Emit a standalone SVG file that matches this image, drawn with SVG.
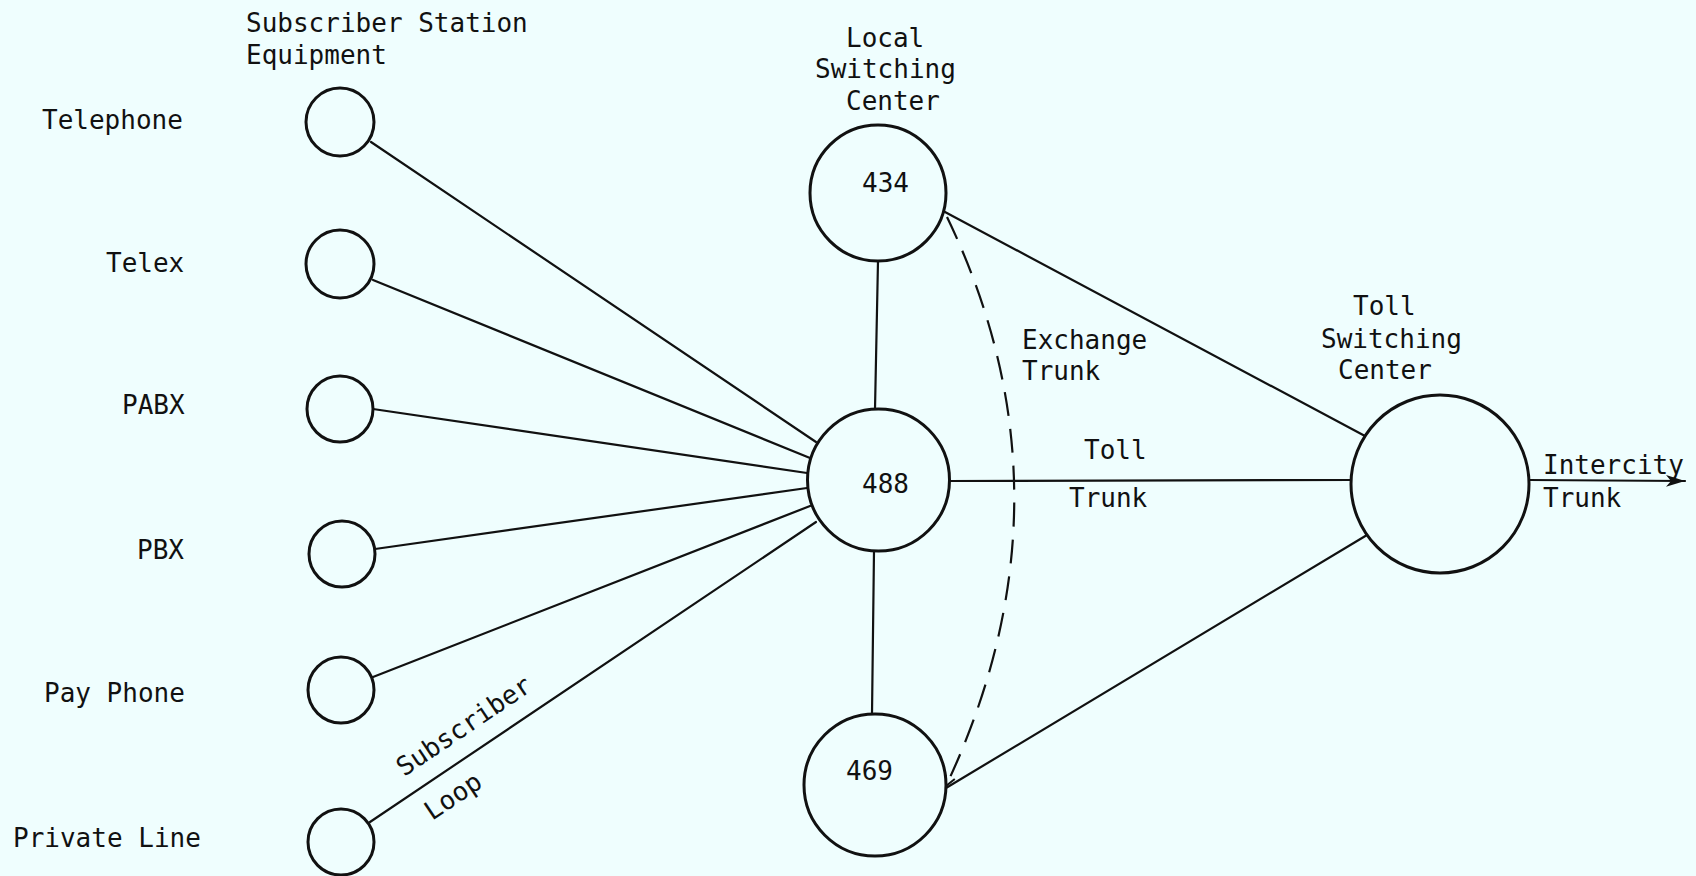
<svg xmlns="http://www.w3.org/2000/svg" width="1696" height="876" viewBox="0 0 1696 876">
  <style>
    .bg { fill: #effefe; }
    .node { fill: none; stroke: #111; stroke-width: 3; }
    .link { fill: none; stroke: #111; stroke-width: 2.2; stroke-linecap: round; }
    .dash { fill: none; stroke: #111; stroke-width: 2.2; stroke-dasharray: 24 13; }
    text { font-family: "DejaVu Sans Mono", "Liberation Mono", monospace; font-size: 26px; fill: #111; }
  </style>
  <defs>
    <marker id="open-arrow" viewBox="0 0 12 12" refX="11" refY="6" markerWidth="12" markerHeight="12" markerUnits="userSpaceOnUse" orient="auto">
      <path d="M1,1 L11,6 L1,11" fill="none" stroke="#111" stroke-width="2"/>
    </marker>
    <marker id="solid-arrow" viewBox="0 0 20 14" refX="19" refY="7" markerWidth="20" markerHeight="14" markerUnits="userSpaceOnUse" orient="auto">
      <path d="M0,1 L19,7 L0,13 L5,7 Z" fill="#111"/>
    </marker>
  </defs>

  <rect class="bg" x="0" y="0" width="1696" height="876"/>

  <!-- column heading -->
  <g id="heading-subscriber">
    <text x="246" y="32">Subscriber Station</text>
    <text x="246" y="64">Equipment</text>
  </g>

  <!-- connectors -->
  <g id="connectors">
    <!-- subscriber loops into exchange 488 -->
    <line class="link" x1="371" y1="142" x2="816" y2="442"/>
    <line class="link" x1="373" y1="280" x2="810" y2="458"/>
    <line class="link" x1="373" y1="409" x2="807" y2="473"/>
    <line class="link" x1="375" y1="549" x2="807" y2="488"/>
    <line class="link" x1="373" y1="677" x2="810" y2="506"/>
    <line class="link" x1="370" y1="822" x2="816" y2="522"/>
    <!-- exchange trunks between local centers -->
    <line class="link" x1="878" y1="261" x2="875" y2="409"/>
    <line class="link" x1="874" y1="551" x2="872" y2="714"/>
    <!-- toll trunks -->
    <line class="link" x1="945" y1="212" x2="1365" y2="436"/>
    <line class="link" x1="949" y1="481" x2="1351" y2="480"/>
    <line class="link" x1="946" y1="788" x2="1367" y2="535"/>
    <!-- exchange trunk path 434 to 469 -->
    <path class="dash" d="M947,217 Q1082,497 946,786" marker-end="url(#open-arrow)"/>
    <!-- intercity trunk -->
    <line class="link" x1="1529" y1="480" x2="1685" y2="481" marker-end="url(#solid-arrow)"/>
  </g>

  <!-- subscriber station equipment -->
  <g id="telephone">
    <circle class="node" cx="340" cy="122" r="34"/>
    <text x="42" y="129">Telephone</text>
  </g>
  <g id="telex">
    <circle class="node" cx="340" cy="264" r="34"/>
    <text x="106" y="272">Telex</text>
  </g>
  <g id="pabx">
    <circle class="node" cx="340" cy="409" r="33"/>
    <text x="122" y="414">PABX</text>
  </g>
  <g id="pbx">
    <circle class="node" cx="342" cy="554" r="33"/>
    <text x="137" y="559">PBX</text>
  </g>
  <g id="pay-phone">
    <circle class="node" cx="341" cy="690" r="33"/>
    <text x="44" y="702">Pay Phone</text>
  </g>
  <g id="private-line">
    <circle class="node" cx="341" cy="842" r="33"/>
    <text x="13" y="847">Private Line</text>
  </g>

  <!-- local switching centers -->
  <g id="local-434">
    <text x="846" y="47">Local</text>
    <text x="815" y="78">Switching</text>
    <text x="846" y="110">Center</text>
    <circle class="node" cx="878" cy="193" r="68"/>
    <text x="862" y="192">434</text>
  </g>
  <g id="local-488">
    <circle class="node" cx="878.5" cy="480" r="71"/>
    <text x="862" y="493">488</text>
  </g>
  <g id="local-469">
    <circle class="node" cx="875" cy="785" r="71"/>
    <text x="846" y="780">469</text>
  </g>

  <!-- toll switching center -->
  <g id="toll-center">
    <text x="1353" y="315">Toll</text>
    <text x="1321" y="348">Switching</text>
    <text x="1338" y="379">Center</text>
    <circle class="node" cx="1440" cy="484" r="89"/>
  </g>

  <!-- connector labels -->
  <g id="labels">
    <text x="404" y="777" transform="rotate(-34 404 777)">Subscriber</text>
    <text x="432" y="821" transform="rotate(-34 432 821)">Loop</text>
    <text x="1022" y="349">Exchange</text>
    <text x="1022" y="380">Trunk</text>
    <text x="1084" y="459">Toll</text>
    <text x="1069" y="507">Trunk</text>
    <text x="1543" y="474">Intercity</text>
    <text x="1543" y="507">Trunk</text>
  </g>
</svg>
